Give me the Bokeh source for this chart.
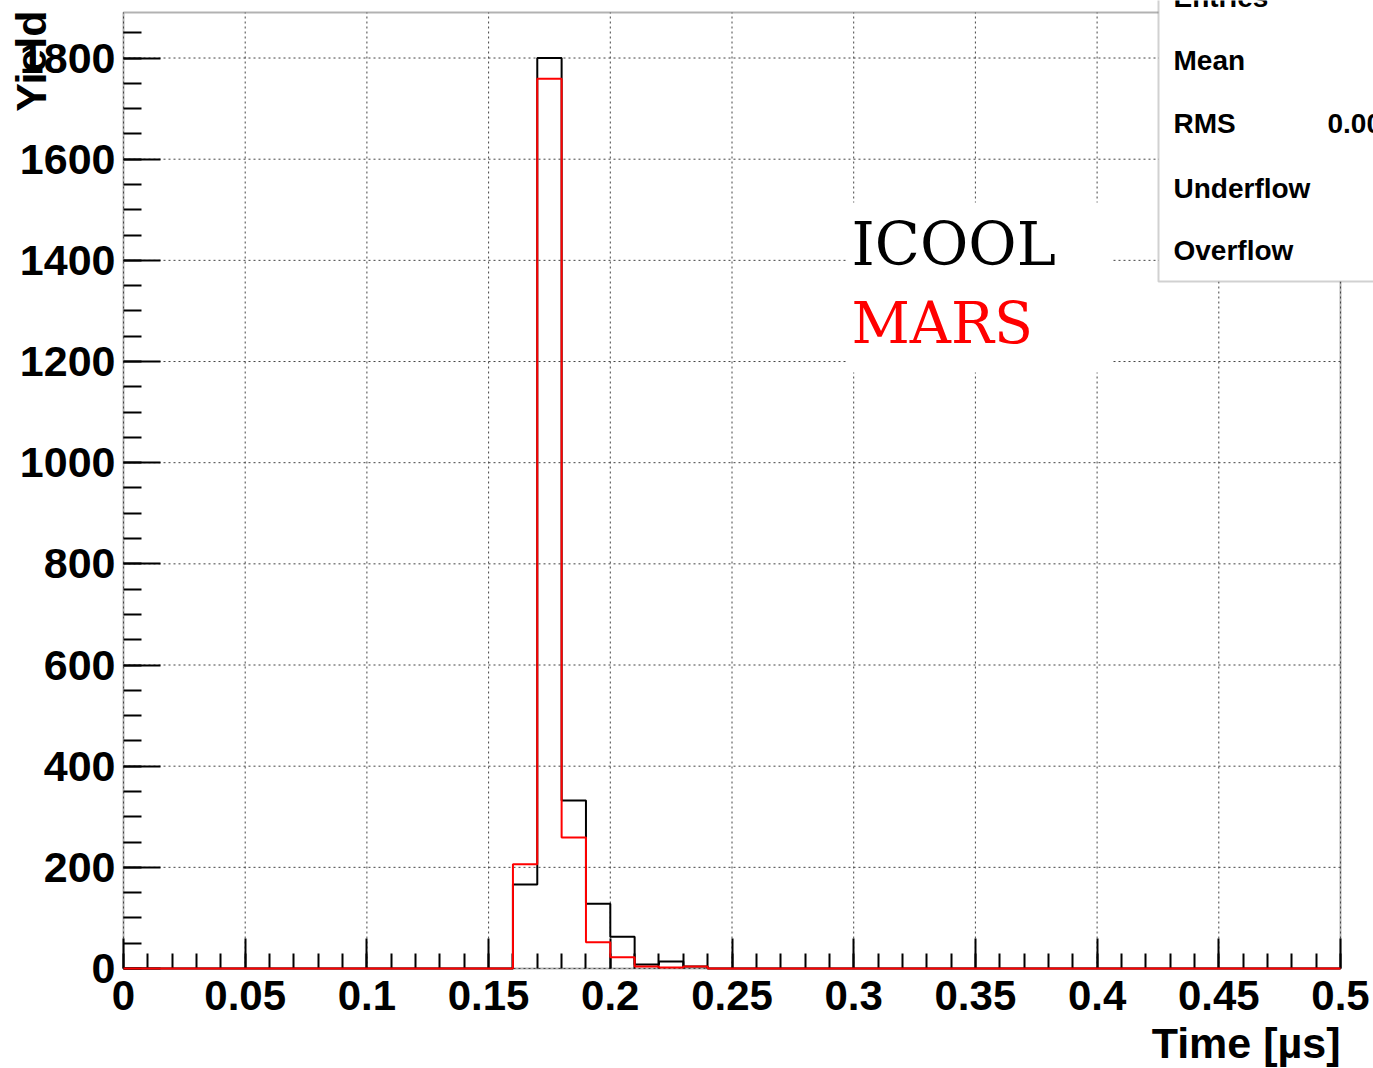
import math
from bokeh.plotting import figure
from bokeh.models import (Label, BoxAnnotation, SingleIntervalTicker, CustomJSTickFormatter,
                          LinearAxis, Range1d)
from bokeh.embed import file_html
from bokeh.resources import INLINE

# ---- data (histogram counts, 50 bins of 0.01 us from 0 to 0.5 us) ----
bin_start = 0.0
bin_width = 0.01
icool_counts = [0, 0, 0, 0, 0, 0, 0, 0, 0, 0,
                0, 0, 0, 0, 0, 0, 166, 1800, 332, 128,
                63, 8, 14, 4, 0, 0, 0, 0, 0, 0,
                0, 0, 0, 0, 0, 0, 0, 0, 0, 0,
                0, 0, 0, 0, 0, 0, 0, 0, 0, 0]
mars_counts = [0, 0, 0, 0, 0, 0, 0, 0, 0, 0,
               0, 0, 0, 0, 0, 0, 206, 1759, 259, 52,
               22, 4, 2, 4, 0, 0, 0, 0, 0, 0,
               0, 0, 0, 0, 0, 0, 0, 0, 0, 0,
               0, 0, 0, 0, 0, 0, 0, 0, 0, 0]
x_ticks = [0.0, 0.05, 0.1, 0.15, 0.2, 0.25, 0.3, 0.35, 0.4, 0.45, 0.5]
y_ticks = [0, 200, 400, 600, 800, 1000, 1200, 1400, 1600, 1800]
x_label = "Time [\u00b5s]"
y_label = "Yield"
series_names = ["ICOOL", "MARS"]
stat_names = ["Entries", "Mean", "RMS", "Underflow", "Overflow"]
rms_text = "0.00"

XMAX = 0.5
YMAX = 1890

# page / frame geometry (pixels)
W, H = 1373, 1068
FL, FR, FT, FB = 123, 1340, 12, 968


def dx(px):
    return (px - FL) / (FR - FL) * XMAX


def dy(py):
    return (FB - py) / (FB - FT) * YMAX


# the plotting area covers the whole page so that titles and the stat box
# (which lie outside the histogram frame) are not clipped
p = figure(width=W, height=H,
           x_range=Range1d(dx(0), dx(W)), y_range=Range1d(dy(H), dy(0)),
           x_axis_location=None, y_axis_location=None,
           output_backend="svg", toolbar_location=None, min_border=0)
p.outline_line_color = None
p.background_fill_color = "white"
p.border_fill_color = "white"
p.grid.visible = False

# frame
frame = BoxAnnotation(left=0, right=XMAX, bottom=0, top=YMAX, fill_alpha=0.0,
                      line_color="black", line_width=2, level="underlay")
p.add_layout(frame)

# dotted grid at the major ticks
p.segment(x0=x_ticks, y0=[0] * len(x_ticks), x1=x_ticks, y1=[YMAX] * len(x_ticks),
          line_color="#444444", line_width=1, line_dash="2 3")
p.segment(x0=[0] * len(y_ticks), y0=y_ticks, x1=[XMAX] * len(y_ticks), y1=y_ticks,
          line_color="#444444", line_width=1, line_dash="2 3")

# axes fixed at the frame edges
xt = SingleIntervalTicker(interval=0.05, num_minor_ticks=5)
yt = SingleIntervalTicker(interval=200, num_minor_ticks=4)
xaxis = LinearAxis(fixed_location=0, bounds=(0, XMAX), ticker=xt)
xaxis.formatter = CustomJSTickFormatter(code="""
var s = tick.toFixed(2);
s = s.replace(/0+$/, '');
s = s.replace(/\\.$/, '');
return s;
""")
yaxis = LinearAxis(fixed_location=0, bounds=(0, YMAX), ticker=yt)
for ax in (xaxis, yaxis):
    ax.axis_line_color = None
    ax.major_tick_line_color = "black"
    ax.minor_tick_line_color = "black"
    ax.major_tick_line_width = 2
    ax.minor_tick_line_width = 2
    ax.major_tick_out = 0
    ax.minor_tick_out = 0
    ax.major_label_text_font = "Liberation Sans"
    ax.major_label_text_font_style = "bold"
    ax.major_label_text_color = "black"
xaxis.major_tick_in = 30
xaxis.minor_tick_in = 15
yaxis.major_tick_in = 37
yaxis.minor_tick_in = 18
xaxis.major_label_text_font_size = "42px"
yaxis.major_label_text_font_size = "43px"
xaxis.major_label_standoff = 12
yaxis.major_label_standoff = 8
p.add_layout(xaxis, "below")
p.add_layout(yaxis, "left")

# histogram steps (drawn above the ticks, as in the original)
edges = [bin_start + i * bin_width for i in range(len(icool_counts) + 1)]
icool_y = icool_counts + [icool_counts[-1]]
mars_y = mars_counts + [mars_counts[-1]]
r1 = p.step(edges, icool_y, mode="after", line_color="black", line_width=2)
r2 = p.step(edges, mars_y, mode="after", line_color="#ff0000", line_width=2)
r1.level = "overlay"
r2.level = "overlay"

# legend-like text box
leg_box = BoxAnnotation(left=dx(846), right=dx(1112), top=dy(202), bottom=dy(372),
                        fill_color="white", fill_alpha=1.0, line_alpha=0.0)
p.add_layout(leg_box)
p.add_layout(Label(x=dx(851), y=dy(244), text=series_names[0], text_font="DejaVu Serif",
                   text_font_size="59px", text_color="black", text_baseline="alphabetic"))
p.add_layout(Label(x=dx(851), y=dy(322), text=series_names[1], text_font="DejaVu Serif",
                   text_font_size="57px", text_color="#ff0000", text_baseline="alphabetic"))

# axis titles
p.add_layout(Label(x=dx(30), y=dy(10), text=y_label, angle=math.pi / 2,
                   text_align="right", text_baseline="alphabetic",
                   text_font="Liberation Sans", text_font_style="bold",
                   text_font_size="43px", text_color="black"))
p.add_layout(Label(x=dx(1340), y=dy(1042), text=x_label,
                   text_align="right", text_baseline="alphabetic",
                   text_font="Liberation Sans", text_font_style="bold",
                   text_font_size="43px", text_color="black"))

# statistics box (partly outside page)
stat_box = BoxAnnotation(left=dx(1158), right=dx(1420), top=dy(-30), bottom=dy(281),
                         fill_color="white", fill_alpha=1.0,
                         line_color="#666666", line_width=2, level="overlay")
p.add_layout(stat_box)
stat_mid = [-3, 60, 123, 188, 250]
for name, my in zip(stat_names, stat_mid):
    p.add_layout(Label(x=dx(1173), y=dy(my), text=name, text_baseline="alphabetic",
                       text_font="Liberation Sans", text_font_style="bold",
                       text_font_size="28px", text_color="black", level="overlay"))
p.add_layout(Label(x=dx(1327), y=dy(123), text=rms_text, text_baseline="alphabetic",
                   text_font="Liberation Sans", text_font_style="bold",
                   text_font_size="28px", text_color="black", level="overlay"))

open("out.html", "w").write(file_html(p, INLINE))
